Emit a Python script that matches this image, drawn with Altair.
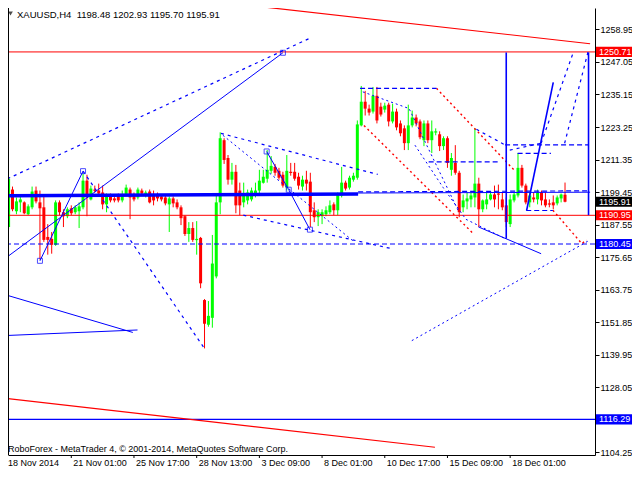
import altair as alt
import pandas as pd

# ---------------- candles (H4 bars, index 0..142) ----------------
opens = [1186.65, 1200.37, 1192.43, 1195.68, 1195.68, 1191.34, 1193.87, 1200.01, 1195.68, 1193.87,
         1183.04, 1182.32, 1180.15, 1195.68, 1192.07, 1190.62, 1193.51, 1192.07, 1192.43, 1193.87,
         1203.62, 1196.76, 1200.37, 1200.01, 1199.29, 1194.95, 1197.85, 1197.12, 1198.21, 1196.40,
         1198.57, 1200.37, 1198.21, 1197.48, 1200.01, 1198.21, 1199.65, 1198.57, 1198.57, 1197.85,
         1197.48, 1194.95, 1197.12, 1195.68, 1193.87, 1190.62, 1184.12, 1186.29, 1181.96, 1182.68,
         1159.95, 1150.92, 1153.45, 1168.60, 1195.68, 1218.42, 1211.92, 1203.98, 1206.87, 1200.01,
         1195.68, 1196.40, 1196.76, 1198.21, 1200.01, 1202.90, 1204.34, 1207.23, 1208.67, 1207.23,
         1205.79, 1201.09, 1206.87, 1206.87, 1205.06, 1201.46, 1203.98, 1203.26, 1192.79, 1190.26,
         1190.62, 1191.34, 1192.07, 1194.95, 1192.79, 1198.21, 1202.90, 1201.09, 1203.98, 1204.70,
         1223.84, 1232.50, 1229.97, 1228.89, 1234.66, 1230.69, 1229.61, 1231.42, 1225.28, 1228.89,
         1224.56, 1222.75, 1217.34, 1223.84, 1226.72, 1225.28, 1218.42, 1224.56, 1218.42, 1221.31,
         1220.59, 1216.25, 1219.14, 1207.59, 1210.12, 1206.51, 1193.87, 1196.04, 1196.76, 1197.48,
         1202.54, 1193.15, 1194.95, 1196.76, 1198.57, 1198.93, 1196.76, 1194.59, 1187.73, 1196.40,
         1198.21, 1208.31, 1201.82, 1195.68, 1197.48, 1196.76, 1199.29, 1196.76, 1195.31, 1195.68,
         1195.31, 1197.12, 1198.48]
highs = [1205.06, 1201.46, 1197.48, 1197.85, 1196.04, 1194.95, 1201.46, 1201.46, 1200.01, 1198.57,
         1187.73, 1184.85, 1196.40, 1196.40, 1193.15, 1193.87, 1194.59, 1194.59, 1195.68, 1206.15,
         1205.79, 1201.82, 1201.82, 1202.54, 1201.82, 1198.93, 1198.93, 1198.21, 1198.93, 1200.01,
         1202.18, 1201.09, 1199.29, 1201.09, 1200.73, 1200.01, 1200.37, 1200.01, 1199.29, 1198.57,
         1198.57, 1197.85, 1197.85, 1196.76, 1194.59, 1190.98, 1188.46, 1188.46, 1188.82, 1183.04,
         1160.31, 1159.58, 1183.76, 1198.57, 1221.31, 1219.14, 1213.00, 1210.12, 1209.39, 1202.90,
         1202.90, 1200.37, 1201.09, 1202.90, 1207.59, 1207.59, 1214.81, 1212.64, 1209.75, 1208.31,
         1206.87, 1213.00, 1210.12, 1210.12, 1206.51, 1205.43, 1207.23, 1206.51, 1195.68, 1193.15,
         1193.15, 1194.23, 1196.40, 1195.68, 1199.29, 1208.67, 1203.62, 1205.43, 1206.51, 1225.64,
         1238.27, 1236.46, 1231.42, 1237.91, 1237.91, 1232.14, 1232.14, 1232.14, 1231.78, 1229.97,
         1225.64, 1223.84, 1231.42, 1229.25, 1227.81, 1226.00, 1225.64, 1225.64, 1225.64, 1222.75,
         1221.67, 1219.86, 1219.86, 1213.73, 1216.61, 1207.23, 1198.57, 1199.29, 1199.29, 1222.75,
         1204.70, 1196.76, 1199.29, 1199.29, 1201.82, 1202.18, 1199.29, 1197.48, 1198.57, 1199.29,
         1213.73, 1209.39, 1202.54, 1199.29, 1199.29, 1200.37, 1200.01, 1199.29, 1196.76, 1198.21,
         1198.21, 1198.93, 1202.93]
lows = [1185.93, 1192.43, 1191.34, 1192.07, 1191.34, 1190.98, 1193.15, 1195.31, 1174.74, 1181.24,
        1176.55, 1176.91, 1179.79, 1190.98, 1186.65, 1189.90, 1190.98, 1191.34, 1186.29, 1193.15,
        1190.62, 1196.40, 1199.29, 1198.21, 1193.15, 1192.07, 1195.68, 1195.68, 1195.68, 1195.68,
        1198.21, 1189.54, 1196.04, 1196.76, 1198.21, 1197.48, 1195.31, 1194.59, 1196.04, 1196.04,
        1194.59, 1184.85, 1193.87, 1193.15, 1187.37, 1183.40, 1181.24, 1181.24, 1176.55, 1164.27,
        1142.26, 1150.20, 1149.84, 1167.88, 1191.34, 1209.75, 1202.18, 1202.18, 1191.70, 1190.98,
        1193.87, 1194.95, 1196.04, 1197.48, 1198.57, 1202.54, 1202.90, 1206.15, 1205.43, 1203.98,
        1201.09, 1200.01, 1205.43, 1203.62, 1200.37, 1200.01, 1200.01, 1186.65, 1188.46, 1187.01,
        1187.73, 1190.62, 1191.34, 1190.98, 1190.98, 1197.48, 1200.01, 1200.37, 1203.26, 1203.98,
        1223.47, 1227.45, 1227.45, 1228.17, 1224.56, 1227.08, 1228.53, 1223.47, 1224.56, 1222.03,
        1219.86, 1214.81, 1214.81, 1223.11, 1223.47, 1218.78, 1216.25, 1217.34, 1213.73, 1220.22,
        1214.45, 1214.81, 1208.31, 1205.43, 1205.79, 1190.26, 1192.07, 1193.15, 1193.87, 1193.87,
        1186.65, 1192.07, 1193.15, 1196.40, 1193.87, 1193.15, 1192.79, 1186.65, 1186.65, 1195.68,
        1197.48, 1201.09, 1194.95, 1193.87, 1195.68, 1194.95, 1194.59, 1193.87, 1193.87, 1193.15,
        1194.59, 1195.68, 1195.70]
closes = [1204.34, 1193.15, 1196.04, 1196.76, 1191.70, 1194.23, 1199.65, 1196.04, 1193.51, 1181.96,
          1181.96, 1180.15, 1195.68, 1192.07, 1190.62, 1193.15, 1191.70, 1193.87, 1194.23, 1203.62,
          1197.48, 1200.73, 1200.01, 1198.93, 1194.95, 1197.85, 1196.40, 1196.40, 1196.40, 1198.57,
          1201.09, 1197.48, 1196.76, 1200.37, 1198.93, 1199.29, 1195.68, 1196.40, 1197.12, 1196.76,
          1195.31, 1197.12, 1195.31, 1193.87, 1189.90, 1184.12, 1186.29, 1181.96, 1182.32, 1166.07,
          1151.28, 1154.17, 1173.30, 1195.68, 1219.14, 1211.20, 1203.98, 1206.87, 1194.59, 1194.59,
          1198.21, 1199.29, 1200.01, 1200.01, 1203.62, 1205.06, 1207.59, 1209.03, 1206.51, 1204.70,
          1201.82, 1207.23, 1206.51, 1204.34, 1201.82, 1203.98, 1202.54, 1192.07, 1190.26, 1192.07,
          1192.07, 1192.79, 1194.59, 1192.79, 1198.57, 1202.90, 1200.73, 1204.70, 1205.43, 1224.20,
          1232.50, 1229.97, 1228.53, 1234.66, 1225.64, 1227.81, 1231.05, 1225.28, 1228.89, 1223.11,
          1220.95, 1217.34, 1223.84, 1226.72, 1224.56, 1219.50, 1224.56, 1218.42, 1221.67, 1221.67,
          1216.25, 1219.14, 1210.12, 1211.92, 1206.51, 1192.07, 1196.40, 1197.12, 1198.21, 1202.54,
          1193.15, 1196.40, 1196.76, 1198.57, 1196.76, 1198.57, 1193.87, 1188.46, 1196.76, 1198.57,
          1208.31, 1201.82, 1195.68, 1198.21, 1196.76, 1199.29, 1196.40, 1194.59, 1194.95, 1194.59,
          1197.48, 1198.57, 1195.91]

# ---------------- drawn objects (bar index, price) ----------------
red_solid = {
    "upper_trend": ([56.7, 148.4], [1268.5, 1253.7]),
    "lower_trend": ([-0.3, 108.8], [1123.9, 1106.1]),
}
red_dotted = {
    "fan_a": ([109.2, 129.2], [1237.4, 1207.2]),
    "fan_b": ([90.7, 118.7], [1223.8, 1184.1]),
    "fan_c": ([138.9, 146.3, 147.5], [1192.8, 1180.6, 1181.9]),
}
blue_solid = {
    "rise_line": ([-0.3, 70.0], [1175.8, 1250.4]),
    "zig_1": ([8.0, 19.0], [1174.3, 1207.1]),
    "zig_2": ([65.85, 71.5, 76.9], [1214.3, 1200.3, 1185.7]),
    "left_a": ([-0.15, 31.7], [1161.6, 1148.1]),
    "left_b": ([-0.15, 32.9], [1147.0, 1149.0]),
    "low_line": ([119.9, 135.9], [1186.7, 1176.9]),
    "mid_level": ([89.2, 148.4], [1199.1, 1199.4]),
}
blue_bold = {
    "vline_1": ([127.0, 127.0], [1250.5, 1182.4]),
    "vline_2": ([148.0, 148.0], [1250.5, 1191.0]),
    "up_path": ([132.2, 139.0], [1192.7, 1239.6]),
}
blue_thick = {
    "main_level": ([-0.3, 89.2], [1198.1, 1198.7]),
}
blue_dashed_h = {
    "mid_level_d": ([89.2, 148.4], [1199.5, 1199.9]),
    "top_box": ([89.7, 109.2], [1237.4, 1237.4]),
    "box_164": ([107.2, 125.4], [1210.5, 1210.5]),
    "box_147": ([126.7, 147.9], [1216.7, 1216.7]),
    "box_155": ([129.9, 138.4], [1213.6, 1213.6]),
    "box_213": ([132.1, 138.9], [1192.7, 1192.7]),
}
blue_dashed = {
    "channel": ([-0.3, 77.2], [1204.3, 1255.95]),
    "drop": ([19.0, 50.05], [1207.1, 1142.1]),
    "tri_top": ([54.2, 94.2], [1220.9, 1205.9]),
    "tri_low": ([59.9, 97.9], [1191.0, 1178.7]),
    "peak_drop": ([119.4, 126.7], [1222.4, 1216.7]),
    "slant": ([127.9, 135.9], [1214.8, 1217.3]),
    "proj_1": ([135.9, 144.2], [1217.3, 1250.9]),
    "proj_2": ([141.9, 147.9], [1217.3, 1250.9]),
}
blue_dotted = {
    "tri_mid": ([54.7, 87.9], [1220.2, 1181.6]),
    "d1": ([90.4, 102.2, 114.7], [1236.1, 1230.0, 1192.8]),
    "d2": ([103.7, 110.9, 116.7, 126.9], [1216.6, 1201.1, 1189.5, 1182.3]),
    "support": ([102.9, 148.35], [1145.1, 1181.9]),
}
marker_bars = [8.0, 19.0, 70.0, 65.85, 71.5, 76.9]
marker_prices = [1174.3, 1207.1, 1250.4, 1214.3, 1200.3, 1185.7]

red_levels = [1250.71, 1190.95]
blue_dash_levels = [1180.45]
blue_levels = [1116.29]

box_prices = [1250.71, 1195.91, 1190.95, 1180.45, 1116.29]
box_labels = ["1250.71", "1195.91", "1190.95", "1180.45", "1116.29"]
box_colors = ["#FF0000", "#000000", "#FF0000", "#0000FF", "#0000FF"]

ytick_values = [1258.95, 1247.05, 1235.15, 1223.25, 1211.35, 1199.45, 1187.55,
                1175.65, 1163.75, 1151.85, 1139.95, 1128.05, 1104.25]
xtick_bars = [0, 16, 32, 48, 64, 80, 96, 112, 128]
xtick_labels = ["18 Nov 2014", "21 Nov 01:00", "25 Nov 17:00", "28 Nov 13:00", "3 Dec 09:00",
                "8 Dec 01:00", "10 Dec 17:00", "15 Dec 09:00", "18 Dec 01:00"]

header = "XAUUSD,H4\u00a0\u00a01198.48 1202.93 1195.70 1195.91"
footer = "RoboForex - MetaTrader 4, \u00a9 2001-2014, MetaQuotes Software Corp."

FONT = "Liberation Sans"
FS = 9
W, H = 587, 447
xs = alt.Scale(domain=[1.125, 148.375], nice=False, zero=False)
ys = alt.Scale(domain=[1103.27, 1266.78], nice=False, zero=False)

XAX = alt.Axis(orient="bottom", labels=False, ticks=False, grid=False, domainColor="black",
               domainWidth=1, title=None)
YAX = alt.Axis(orient="right", values=ytick_values, format=".2f", tickSize=4, tickColor="black",
               labelPadding=1, domainColor="black", domainWidth=1, labelColor="black",
               labelFont=FONT, labelFontSize=FS, grid=False, title=None, labelOverlap=False,
               labelBaseline="middle", labelFlush=False, labelBound=False)


def X(field):
    return alt.X(field, scale=xs, axis=XAX)


def Y(field):
    return alt.Y(field, scale=ys, axis=YAX)


# ---------------- build data ----------------
cd = pd.DataFrame({"bar": list(range(len(opens))), "open": opens, "high": highs,
                   "low": lows, "close": closes})
cd["dir"] = ["up" if c >= o else "down" for o, c in zip(cd["open"], cd["close"])]
cd["top"] = cd[["open", "close"]].max(axis=1)
cd["bot"] = cd[["open", "close"]].min(axis=1)
cd.loc[cd["top"] - cd["bot"] < 0.45, "bot"] = cd["top"] - 0.45

col = alt.Color("dir:N", scale=alt.Scale(domain=["up", "down"], range=["#00FF00", "#FF0000"]),
                legend=None)

wicks = alt.Chart(cd).mark_rule(strokeWidth=1, clip=True).encode(
    x=X("bar:Q"), y=Y("low:Q"), y2="high:Q", color=col)
bodies = alt.Chart(cd).mark_bar(size=3, clip=True, strokeWidth=0).encode(
    x=X("bar:Q"), y=Y("top:Q"), y2="bot:Q", color=col)


def seg_df(segs):
    rows = []
    for name, (bs, ps) in segs.items():
        for i, (b, p) in enumerate(zip(bs, ps)):
            rows.append({"name": name, "i": i, "bar": b, "price": p})
    return pd.DataFrame(rows)


def line_layer(segs, color, width, dash=None):
    kw = dict(color=color, strokeWidth=width, clip=True)
    if dash:
        kw["strokeDash"] = dash
    return alt.Chart(seg_df(segs)).mark_line(**kw).encode(
        x=X("bar:Q"), y=Y("price:Q"), detail="name:N", order="i:Q")


def level_layer(levels, color, width, dash=None):
    kw = dict(color=color, strokeWidth=width)
    if dash:
        kw["strokeDash"] = dash
    return alt.Chart(pd.DataFrame({"price": levels})).mark_rule(**kw).encode(y=Y("price:Q"))


one = pd.DataFrame({"a": [0]})

markers = alt.Chart(pd.DataFrame({"bar": marker_bars, "price": marker_prices})).mark_point(
    shape="square", size=25, filled=False, color="#0000FF", strokeWidth=1, clip=True).encode(
    x=X("bar:Q"), y=Y("price:Q"))

boxes_df = pd.DataFrame({"price": box_prices, "label": box_labels, "fill": box_colors})
boxes_df["top"] = boxes_df["price"] + 1.85
boxes_df["bot"] = boxes_df["price"] - 1.85
boxes = alt.Chart(boxes_df).mark_rect().encode(
    x=alt.value(W + 1), x2=alt.value(W + 37),
    y=Y("top:Q"), y2="bot:Q",
    color=alt.Color("fill:N", scale=None),
)
box_text = alt.Chart(boxes_df).mark_text(align="left", baseline="middle", color="white",
                                         font=FONT, fontSize=FS).encode(
    x=alt.value(W + 4), y=Y("price:Q"), text="label:N")

xl = pd.DataFrame({"bar": xtick_bars[1:], "label": xtick_labels[1:]})
xticks = alt.Chart(xl).mark_rule(color="black").encode(
    x=X("bar:Q"), y=alt.value(H), y2=alt.value(H + 3))
xtext = alt.Chart(xl).mark_text(align="left", baseline="middle", dx=2, font=FONT, fontSize=FS,
                                color="black").encode(
    x=X("bar:Q"), y=alt.value(H + 8), text="label:N")
xfirst = alt.Chart(pd.DataFrame({"label": [xtick_labels[0]]})).mark_text(
    align="left", baseline="middle", font=FONT, fontSize=FS, color="black").encode(
    x=alt.value(0), y=alt.value(H + 8), text="label:N")

left_border = alt.Chart(one).mark_rule(color="black").encode(
    x=alt.value(0.5), y=alt.value(0), y2=alt.value(H))
header_tri = alt.Chart(one).mark_point(shape="triangle-down", filled=True, color="black",
                                       size=22).encode(x=alt.value(2.5), y=alt.value(5.5))
header_text = alt.Chart(pd.DataFrame({"t": [header]})).mark_text(
    align="left", baseline="middle", font=FONT, fontSize=9.5, color="black").encode(
    x=alt.value(9), y=alt.value(6.5), text="t:N")
footer_text = alt.Chart(pd.DataFrame({"t": [footer]})).mark_text(
    align="left", baseline="middle", font=FONT, fontSize=FS, color="black").encode(
    x=alt.value(0), y=alt.value(H - 6), text="t:N")

chart = alt.layer(
    wicks, bodies,
    level_layer(red_levels, "#FF0000", 1),
    level_layer(blue_dash_levels, "#0000FF", 1, [5, 3]),
    level_layer(blue_levels, "#0000FF", 1.2),
    line_layer(red_solid, "#FF0000", 1.2),
    line_layer(red_dotted, "#FF0000", 1.4, [2, 3]),
    line_layer(blue_thick, "#0000FF", 3.5),
    line_layer(blue_solid, "#0000FF", 1),
    line_layer(blue_bold, "#0000FF", 1.6),
    line_layer(blue_dashed_h, "#0000FF", 1.2, [5, 3]),
    line_layer(blue_dashed, "#0000FF", 1.2, [3, 4]),
    line_layer(blue_dotted, "#0000FF", 1, [2, 3]),
    markers,
    boxes, box_text,
    xticks, xtext, xfirst,
    left_border, header_tri, header_text, footer_text,
).properties(
    width=W, height=H,
    autosize=alt.AutoSizeParams(type="none"),
    padding={"left": 0, "top": 0, "right": 37, "bottom": 13},
    background="white",
).configure_view(stroke=None)

chart.save("out.html", embed_options={"renderer": "svg", "actions": False})
